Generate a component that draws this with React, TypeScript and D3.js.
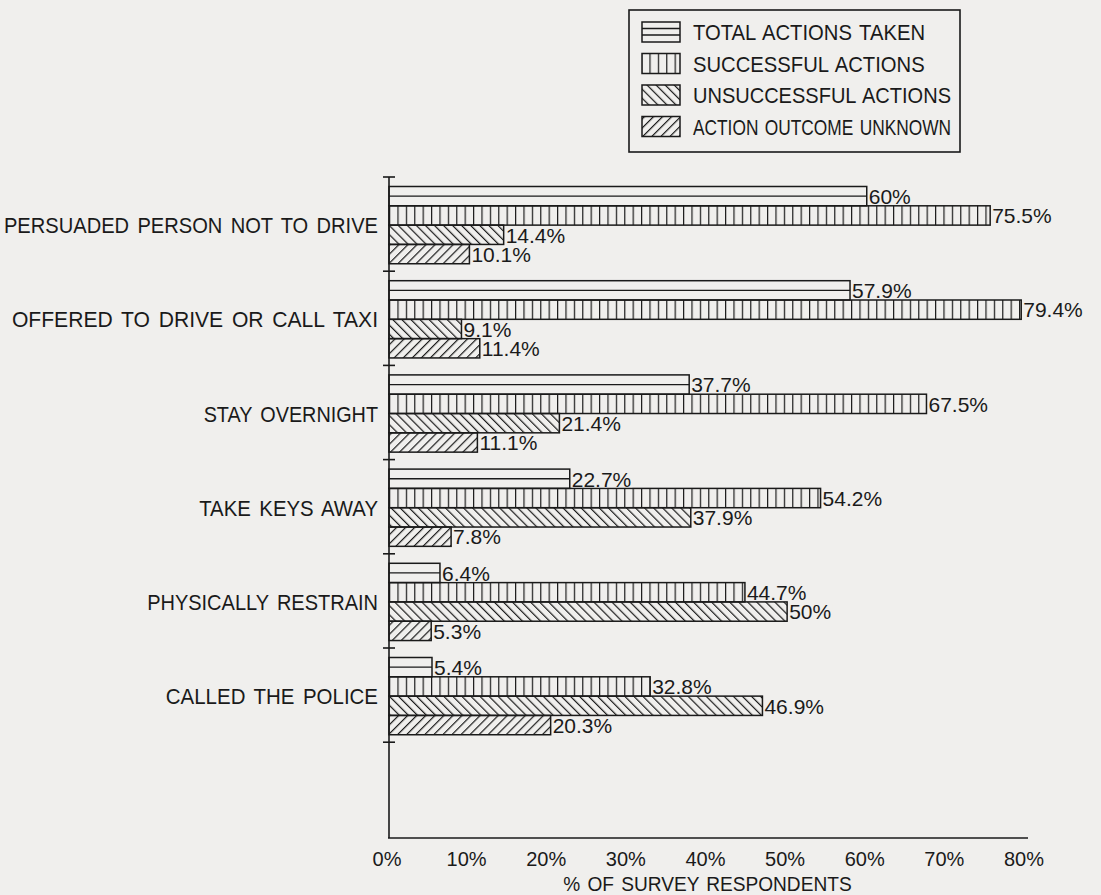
import React, { useEffect, useRef } from 'react';
import * as d3 from 'd3';

const categories = [
  'PERSUADED PERSON NOT TO DRIVE',
  'OFFERED TO DRIVE OR CALL TAXI',
  'STAY OVERNIGHT',
  'TAKE KEYS AWAY',
  'PHYSICALLY RESTRAIN',
  'CALLED THE POLICE',
];
const seriesNames = [
  'TOTAL ACTIONS TAKEN',
  'SUCCESSFUL ACTIONS',
  'UNSUCCESSFUL ACTIONS',
  'ACTION OUTCOME UNKNOWN',
];
const totalActions = [60, 57.9, 37.7, 22.7, 6.4, 5.4];
const successfulActions = [75.5, 79.4, 67.5, 54.2, 44.7, 32.8];
const unsuccessfulActions = [14.4, 9.1, 21.4, 37.9, 50, 46.9];
const outcomeUnknown = [10.1, 11.4, 11.1, 7.8, 5.3, 20.3];
const xTicks = [0, 10, 20, 30, 40, 50, 60, 70, 80];
const xTitle = '% OF SURVEY RESPONDENTS';

const seriesValues = [totalActions, successfulActions, unsuccessfulActions, outcomeUnknown];
const fills = ['none', 'url(#pVert)', 'url(#pBack)', 'url(#pFwd)'];

const W = 1101;
const H = 895;
const BG = '#f0efed';
const INK = '#1a1a1a';
const FONT = '"Liberation Sans", Arial, sans-serif';

// plotter-style lettering: nearly uniform glyph advance, wide word gaps
const plotterLength = (s: string) => {
  const spaces = s.split(' ').length - 1;
  const glyphs = s.length - spaces;
  return glyphs * 11.5 + spaces * 21;
};

export default function App() {
  const ref = useRef<SVGSVGElement | null>(null);

  useEffect(() => {
    const svg = d3.select(ref.current!);
    svg.selectAll('*').remove();

    const x = d3.scaleLinear().domain([0, 80]).range([389, 1026]);
    const y0 = d3
      .scaleBand<string>()
      .domain(categories)
      .range([177, 177 + 6 * 94.2])
      .paddingInner(0.18)
      .paddingOuter(0.09)
      .align(0.56);
    const y1 = d3.scaleBand<string>().domain(seriesNames).range([0, y0.bandwidth()]);
    const axisBottom = 838;

    svg.append('rect').attr('width', W).attr('height', H).attr('fill', BG);

    const defs = svg.append('defs');
    const pv = defs
      .append('pattern')
      .attr('id', 'pVert')
      .attr('patternUnits', 'userSpaceOnUse')
      .attr('x', x(0))
      .attr('width', 8.4)
      .attr('height', 10);
    pv.append('line').attr('x1', 0.6).attr('x2', 0.6).attr('y1', 0).attr('y2', 10).attr('stroke', INK).attr('stroke-width', 1.2);
    [['pBack', -45], ['pFwd', 45]].forEach(([id, ang]) => {
      const p = defs
        .append('pattern')
        .attr('id', id as string)
        .attr('patternUnits', 'userSpaceOnUse')
        .attr('width', 6.4)
        .attr('height', 10)
        .attr('patternTransform', `rotate(${ang})`);
      p.append('line').attr('x1', 0.6).attr('x2', 0.6).attr('y1', 0).attr('y2', 10).attr('stroke', INK).attr('stroke-width', 1.2);
    });

    const fitText = (
      sel: d3.Selection<SVGTextElement, any, any, any>,
      lengthOf: (measured: number, text: string) => number
    ) => {
      sel.each(function () {
        const node = this as SVGTextElement;
        const len = node.getComputedTextLength();
        d3.select(node)
          .attr('textLength', lengthOf(len, node.textContent || ''))
          .attr('lengthAdjust', 'spacingAndGlyphs');
      });
    };

    // bars
    const gBars = svg.append('g');
    categories.forEach((cat, ci) => {
      seriesNames.forEach((s, si) => {
        const v = seriesValues[si][ci];
        const by = (y0(cat) as number) + (y1(s) as number);
        const bh = y1.bandwidth();
        gBars
          .append('rect')
          .attr('x', x(0))
          .attr('y', by)
          .attr('width', x(v) - x(0))
          .attr('height', bh)
          .attr('fill', fills[si])
          .attr('stroke', INK)
          .attr('stroke-width', 1.5);
        if (si === 0) {
          gBars
            .append('line')
            .attr('x1', x(0))
            .attr('x2', x(v))
            .attr('y1', by + bh / 2)
            .attr('y2', by + bh / 2)
            .attr('stroke', INK)
            .attr('stroke-width', 1.3);
        }
      });
    });

    // value labels with background
    const gLab = svg.append('g').attr('font-family', FONT).attr('font-size', 21).attr('fill', INK);
    categories.forEach((cat, ci) => {
      seriesNames.forEach((s, si) => {
        const v = seriesValues[si][ci];
        const cy = (y0(cat) as number) + (y1(s) as number) + y1.bandwidth() / 2;
        const g = gLab.append('g');
        const t = g
          .append('text')
          .attr('x', x(v) + 2)
          .attr('y', cy + 7.8)
          .text(`${v}%`);
        const bb = (t.node() as SVGTextElement).getBBox();
        g.insert('rect', 'text')
          .attr('x', bb.x)
          .attr('y', cy - 8)
          .attr('width', bb.width + 1)
          .attr('height', 16.5)
          .attr('fill', BG);
      });
    });

    // category labels
    const cl = svg
      .append('g')
      .attr('font-family', FONT)
      .attr('font-size', 22)
      .attr('fill', INK)
      .attr('text-anchor', 'end')
      .attr('word-spacing', 3)
      .selectAll('text')
      .data(categories)
      .join('text')
      .attr('x', 378)
      .attr('y', (d) => (y0(d) as number) + y0.bandwidth() / 2 + 8)
      .text((d) => d);
    fitText(cl as any, (m, s) => 0.5 * m * 0.92 + 0.5 * plotterLength(s));

    // axes
    const gAx = svg.append('g').attr('stroke', INK).attr('stroke-width', 1.6);
    gAx.append('line').attr('x1', x(0)).attr('x2', x(0)).attr('y1', 177).attr('y2', axisBottom);
    gAx.append('line').attr('x1', x(0) - 1).attr('x2', x(80) + 2).attr('y1', axisBottom).attr('y2', axisBottom);
    d3.range(categories.length + 1).forEach((k) => {
      const ty = (y0.range()[0] as number) + k * y0.step();
      gAx.append('line').attr('x1', x(0) - 6).attr('x2', x(0) + 6).attr('y1', ty).attr('y2', ty);
    });

    svg
      .append('g')
      .attr('font-family', FONT)
      .attr('font-size', 20)
      .attr('fill', INK)
      .attr('text-anchor', 'middle')
      .selectAll('text')
      .data(xTicks)
      .join('text')
      .attr('x', (d) => x(d) - 2)
      .attr('y', 866)
      .text((d) => `${d}%`);

    const tt = svg
      .append('text')
      .attr('font-family', FONT)
      .attr('font-size', 21)
      .attr('fill', INK)
      .attr('text-anchor', 'middle')
      .attr('word-spacing', 2)
      .attr('x', (x(0) + x(80)) / 2)
      .attr('y', 891)
      .text(xTitle);
    fitText(tt as any, (m) => m * 0.91);

    // legend
    const lg = svg.append('g');
    lg.append('rect')
      .attr('x', 629)
      .attr('y', 10)
      .attr('width', 331)
      .attr('height', 142)
      .attr('fill', 'none')
      .attr('stroke', INK)
      .attr('stroke-width', 1.6);
    const legendTextMax = 258;
    seriesNames.forEach((s, i) => {
      const cy = 32 + i * 31.5;
      lg.append('rect')
        .attr('x', 642)
        .attr('y', cy - 10)
        .attr('width', 38)
        .attr('height', 20)
        .attr('fill', fills[i])
        .attr('stroke', INK)
        .attr('stroke-width', 1.5);
      if (i === 0) {
        [6.5, 13].forEach((o) =>
          lg.append('line').attr('x1', 642).attr('x2', 680).attr('y1', cy - 10 + o).attr('y2', cy - 10 + o).attr('stroke', INK).attr('stroke-width', 1.3)
        );
      }
      const t = lg
        .append('text')
        .attr('font-family', FONT)
        .attr('font-size', 22)
        .attr('fill', INK)
        .attr('word-spacing', 2)
        .attr('x', 693)
        .attr('y', cy + 8)
        .text(s);
      fitText(t as any, (m) => Math.min(m * 0.92, legendTextMax));
    });
  }, []);

  return (
    <svg
      ref={ref}
      width={W}
      height={H}
      style={{ position: 'absolute', left: 0, top: 0, display: 'block' }}
    />
  );
}
